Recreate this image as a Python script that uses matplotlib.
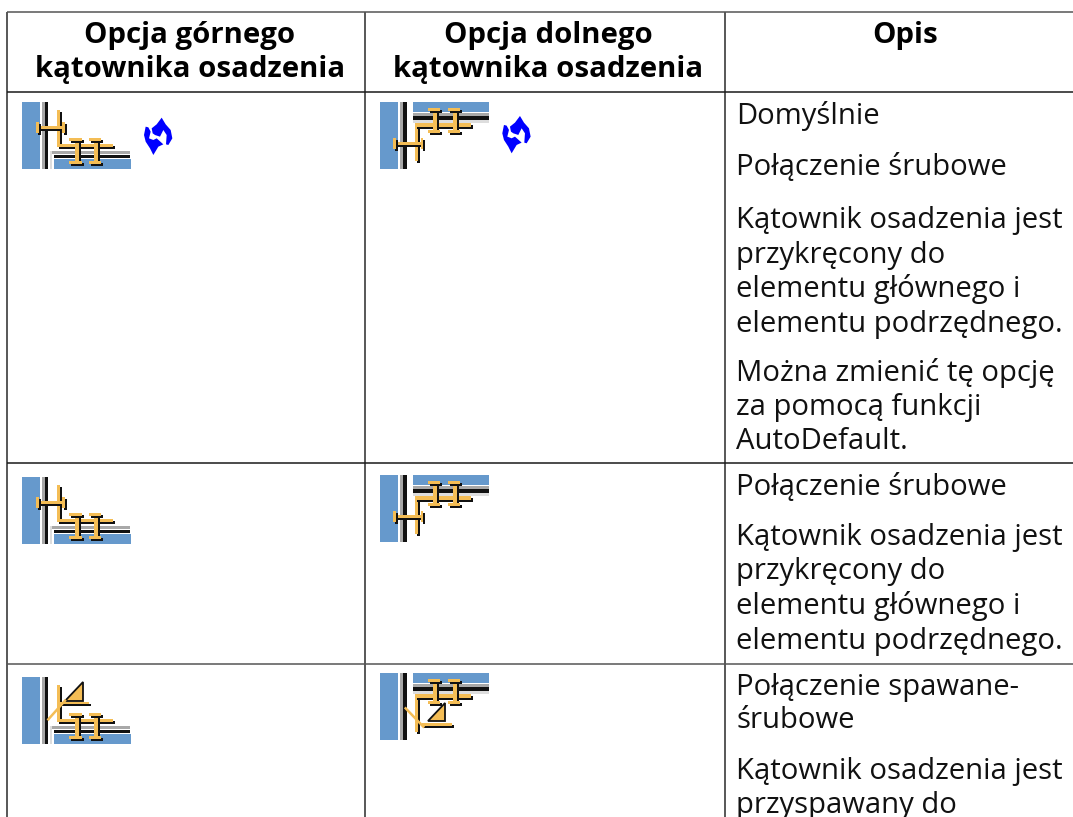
import matplotlib
matplotlib.use("Agg")
import matplotlib.pyplot as plt
from matplotlib.patches import Rectangle, Polygon

W, H = 1073, 817
plt.rcParams['font.family'] = ['Open Sans', 'Noto Sans', 'DejaVu Sans']

# === Table content ===
col_lines = [7, 365, 725]
row_lines = [12, 92, 463, 663.5]
row_colors = ["#555555", "#1a1a1a", "#1a1a1a", "#555555"]

header_left = ["Opcja górnego", "kątownika osadzenia"]
header_mid = ["Opcja dolnego", "kątownika osadzenia"]
header_right = ["Opis"]

desc_lines = [
    ("Domyślnie", 116), ("Połączenie śrubowe", 167),
    ("Kątownik osadzenia jest", 220), ("przykręcony do", 255),
    ("elementu głównego i", 289), ("elementu podrzędnego.", 324),
    ("Można zmienić tę opcję", 373), ("za pomocą funkcji", 407),
    ("AutoDefault.", 441),
    ("Połączenie śrubowe", 487),
    ("Kątownik osadzenia jest", 537), ("przykręcony do", 572),
    ("elementu głównego i", 606), ("elementu podrzędnego.", 641),
    ("Połączenie spawane-", 687), ("śrubowe", 720),
    ("Kątownik osadzenia jest", 772), ("przyspawany do", 806),
]

# icon crop origins, drawing below is in 3x units from these
icons = [
    (0, 85, "top", "bolt"), (365, 85, "bottom", "bolt"),
    (0, 460, "top", "bolt"), (365, 458, "bottom", "bolt"),
    (0, 660, "top", "weld"), (365, 656, "bottom", "weld"),
]
refresh_marks = [(0, 85), (358.3, 83.3)]

BLUE = "#6699cc"
TAN = "#f4bd55"
BLACK = "#111111"
GRAY = "#a8a8a8"
LIGHT = "#dddddd"

fig = plt.figure(figsize=(W / 100, H / 100), dpi=100)
ax = fig.add_axes([0, 0, 1, 1])
ax.set_xlim(0, W)
ax.set_ylim(H, 0)
ax.axis("off")

# === Grid ===
for x in col_lines:
    ax.plot([x, x], [row_lines[0], H], color="#2a2a2a", lw=1.1, solid_capstyle="butt")
for y, c in zip(row_lines, row_colors):
    ax.plot([col_lines[0], W], [y, y], color=c, lw=1.1, solid_capstyle="butt")

# === Text ===
for lines, cx in [(header_left, 190), (header_mid, 548), (header_right, 905)]:
    for i, line in enumerate(lines):
        ax.text(cx, 35 + i * 34, line, ha="center", va="center",
                fontsize=21.2, fontweight="bold", color="black")

for line, y in desc_lines:
    ax.text(736, y, line, ha="left", va="center", fontsize=21.1, color="#111111")


def box(ox, oy, x0, y0, x1, y1, color):
    ax.add_patch(Rectangle((ox + x0 / 3, oy + y0 / 3), (x1 - x0) / 3, (y1 - y0) / 3,
                           facecolor=color, edgecolor="none"))


def tan_box(ox, oy, x0, y0, x1, y1):
    # black drop shadow sits right and below every tan part
    box(ox, oy, x0 + 6, y0 + 6, x1 + 6, y1 + 6, BLACK)
    box(ox, oy, x0, y0, x1, y1, TAN)


def vbolt(ox, oy, x, y0, y1):
    tan_box(ox, oy, x - 1, y0, x + 11, y1)
    tan_box(ox, oy, x - 17, y0, x + 20, y0 + 9)
    tan_box(ox, oy, x - 17, y1 - 9, x + 20, y1)


def hbolt(ox, oy, x0, x1, y):
    tan_box(ox, oy, x0, y, x1, y + 9)
    tan_box(ox, oy, x0, y - 12, x0 + 8, y + 21)
    tan_box(ox, oy, x1 - 8, y - 12, x1, y + 21)


def top_icon(ox, oy, kind):
    box(ox, oy, 66, 50, 120, 252, BLUE)
    box(ox, oy, 127, 50, 135, 252, GRAY)
    box(ox, oy, 135, 50, 144, 252, BLACK)
    box(ox, oy, 150, 197, 156, 252, LIGHT)
    box(ox, oy, 156, 197, 390, 207, GRAY)
    box(ox, oy, 163, 210, 390, 220, BLACK)
    box(ox, oy, 163, 222, 392, 252, BLUE)
    tan_box(ox, oy, 170, 75, 180, 187)
    tan_box(ox, oy, 170, 178, 338, 187)
    vbolt(ox, oy, 225, 158, 238)
    vbolt(ox, oy, 283, 158, 238)
    if kind == "bolt":
        hbolt(ox, oy, 108, 194, 122)
    else:
        ax.add_patch(Polygon([(ox + 195 / 3, oy + 122 / 3), (ox + 250 / 3, oy + 122 / 3),
                              (ox + 250 / 3, oy + 65 / 3)],
                             closed=True, facecolor=TAN, edgecolor=BLACK, lw=1.3))
        tan_box(ox, oy, 180, 125, 268, 132)
        ax.plot([ox + 145 / 3, ox + 195 / 3], [oy + 178 / 3, oy + 122 / 3], color=TAN, lw=1.8)


def bottom_icon(ox, oy, kind):
    box(ox, oy, 45, 50, 100, 252, BLUE)
    box(ox, oy, 105, 50, 113, 252, GRAY)
    box(ox, oy, 113, 50, 125, 252, BLACK)
    box(ox, oy, 143, 50, 372, 80, BLUE)
    box(ox, oy, 143, 83, 372, 92, GRAY)
    box(ox, oy, 143, 93, 372, 105, BLACK)
    box(ox, oy, 143, 105, 372, 113, LIGHT)
    tan_box(ox, oy, 150, 115, 160, 228)
    tan_box(ox, oy, 150, 115, 318, 125)
    vbolt(ox, oy, 205, 68, 143)
    vbolt(ox, oy, 265, 68, 143)
    if kind == "bolt":
        hbolt(ox, oy, 85, 175, 172)
    else:
        ax.add_patch(Polygon([(ox + 188 / 3, oy + 194 / 3), (ox + 240 / 3, oy + 194 / 3),
                              (ox + 240 / 3, oy + 142 / 3)],
                             closed=True, facecolor=TAN, edgecolor=BLACK, lw=1.3))
        tan_box(ox, oy, 170, 202, 260, 211)
        ax.plot([ox + 122 / 3, ox + 175 / 3], [oy + 157 / 3, oy + 212 / 3], color=TAN, lw=1.8)


for ox, oy, side, kind in icons:
    if side == "top":
        top_icon(ox, oy, kind)
    else:
        bottom_icon(ox, oy, kind)

# AutoDefault marker, two chasing arrows
arrow_a = [(455, 130), (470, 118), (485, 98), (497, 118), (512, 135), (517, 160), (505, 180),
           (498, 178), (500, 150), (490, 135), (480, 155), (465, 150), (458, 145)]
arrow_b = [(437, 125), (445, 127), (452, 140), (447, 160), (460, 165), (470, 160), (490, 178),
           (475, 185), (460, 210), (450, 190), (437, 170), (432, 150)]
for ox, oy in refresh_marks:
    for arrow in (arrow_a, arrow_b):
        pts = [(ox + px / 3, oy + py / 3) for px, py in arrow]
        ax.add_patch(Polygon(pts, closed=True, facecolor="#0000ff", edgecolor="none"))

fig.savefig("out.png", dpi=100)
